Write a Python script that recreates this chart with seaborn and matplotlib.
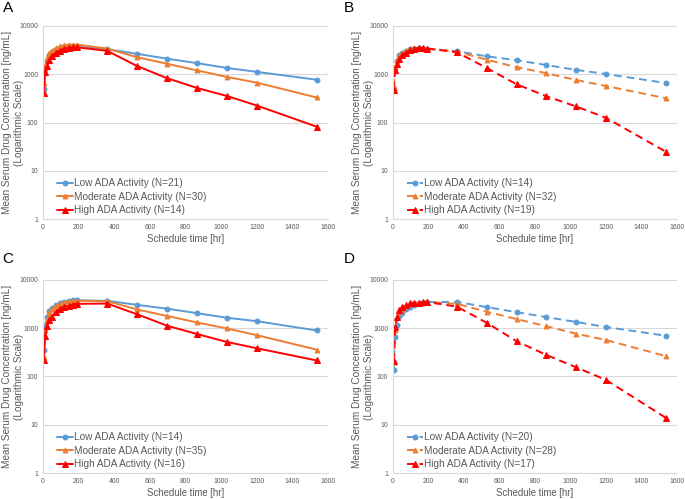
import matplotlib
matplotlib.use("Agg")
import matplotlib.pyplot as plt
import seaborn as sns
import pandas as pd
from matplotlib.ticker import FixedLocator, FixedFormatter, NullLocator

sns.set_theme(style="white")
plt.rcParams['font.family'] = ['Liberation Sans', 'DejaVu Sans']

time_hr = [4, 12, 24, 36, 48, 72, 96, 120, 144, 168, 192, 360, 528, 696, 864, 1032, 1200, 1536]

# Panel A
a_low = [500, 1300, 1900, 2500, 2800, 3200, 3400, 3600, 3700, 3700, 3700, 3300, 2650, 2100, 1700, 1350, 1120, 770]
a_mod = [650, 1500, 2200, 2800, 3100, 3500, 3800, 4000, 4100, 4100, 4100, 3400, 2250, 1650, 1200, 880, 670, 330]
a_high = [400, 1100, 1500, 2000, 2400, 2800, 3100, 3400, 3500, 3600, 3600, 3050, 1480, 830, 520, 355, 225, 82]
# Panel B
b_low = [500, 1300, 1900, 2500, 2700, 3000, 3300, 3400, 3500, 3400, 3400, 3000, 2350, 1950, 1550, 1230, 1010, 660]
b_mod = [550, 1400, 2000, 2400, 2700, 3000, 3400, 3500, 3500, 3500, 3400, 2950, 2000, 1400, 1050, 760, 570, 320]
b_high = [480, 1250, 1600, 2100, 2500, 2800, 3200, 3400, 3500, 3500, 3400, 2850, 1350, 620, 350, 215, 125, 25]
# Panel C
c_low = [350, 1100, 1700, 2300, 2600, 3000, 3300, 3500, 3700, 3800, 3800, 3700, 3050, 2550, 2050, 1650, 1400, 900]
c_mod = [250, 900, 1500, 2100, 2500, 2900, 3200, 3400, 3600, 3700, 3700, 3650, 2450, 1800, 1320, 990, 720, 360]
c_high = [220, 700, 1100, 1500, 1750, 2200, 2550, 2800, 2900, 3100, 3200, 3250, 1950, 1130, 760, 520, 385, 215]
# Panel D
d_low = [135, 650, 1150, 1800, 2100, 2500, 2800, 3100, 3300, 3400, 3500, 3500, 2750, 2150, 1700, 1350, 1060, 700]
d_mod = [200, 900, 1700, 2200, 2500, 2900, 3200, 3300, 3400, 3500, 3500, 3200, 2200, 1550, 1100, 770, 570, 265]
d_high = [210, 1050, 1750, 2400, 2700, 3100, 3300, 3400, 3400, 3500, 3500, 2800, 1300, 540, 280, 155, 85, 14]

n_labels = {
    'A': ["Low ADA Activity (N=21)", "Moderate ADA Activity (N=30)", "High ADA Activity (N=14)"],
    'B': ["Low ADA Activity (N=14)", "Moderate ADA Activity (N=32)", "High ADA Activity (N=19)"],
    'C': ["Low ADA Activity (N=14)", "Moderate ADA Activity (N=35)", "High ADA Activity (N=16)"],
    'D': ["Low ADA Activity (N=20)", "Moderate ADA Activity (N=28)", "High ADA Activity (N=17)"],
}
panel_data = {
    'A': (a_low, a_mod, a_high),
    'B': (b_low, b_mod, b_high),
    'C': (c_low, c_mod, c_high),
    'D': (d_low, d_mod, d_high),
}
panel_dashed = {'A': False, 'B': True, 'C': False, 'D': True}

colors = ['#5B9BD5', '#ED7D31', '#FF0000']
markers = ['o', '^', '^']
msizes = [3.5, 3.5, 5]

y_ticks = [1, 10, 100, 1000, 10000]
y_tick_labels = ["1", "10", "100", "1000", "10000"]
x_ticks = [0, 200, 400, 600, 800, 1000, 1200, 1400, 1600]

fig = plt.figure(figsize=(6.85, 4.99), dpi=100)
positions = {
    'A': [0.0628, 0.561, 0.416, 0.387],
    'B': [0.5737, 0.561, 0.4146, 0.387],
    'C': [0.0628, 0.0521, 0.416, 0.3868],
    'D': [0.5737, 0.0521, 0.4146, 0.3868],
}
letter_pos = {'A': (0.004, 0.998), 'B': (0.502, 0.998), 'C': (0.004, 0.495), 'D': (0.502, 0.495)}

for key in ['A', 'B', 'C', 'D']:
    ax = fig.add_axes(positions[key])
    series = panel_data[key]
    ls = (0, (4, 2.5)) if panel_dashed[key] else '-'
    for vals, lab, col, mk, ms in zip(series, n_labels[key], colors, markers, msizes):
        df = pd.DataFrame({'t': time_hr, 'c': vals})
        sns.lineplot(data=df, x='t', y='c', ax=ax, color=col, marker=mk,
                     markersize=ms, markeredgecolor=col, linewidth=1.4,
                     linestyle=ls, label=lab, errorbar=None)
    ax.set_yscale('log')
    ax.set_ylim(1, 10000)
    ax.set_xlim(0, 1600)
    ax.yaxis.set_major_locator(FixedLocator(y_ticks))
    ax.yaxis.set_major_formatter(FixedFormatter(y_tick_labels))
    ax.yaxis.set_minor_locator(NullLocator())
    ax.set_xticks(x_ticks)
    ax.set_xticklabels([str(v) for v in x_ticks])
    ax.tick_params(axis='both', length=0, labelsize=4.9, colors='#595959', pad=3.5)
    ax.grid(axis='y', color='#D9D9D9', linewidth=0.8)
    ax.grid(axis='x', visible=False)
    for s in ['top', 'right']:
        ax.spines[s].set_visible(False)
    for s in ['left', 'bottom']:
        ax.spines[s].set_color('#D9D9D9')
        ax.spines[s].set_linewidth(0.8)
    ax.set_xlabel("Schedule time [hr]", fontsize=6.9, color='#595959', labelpad=2)
    ax.set_ylabel("Mean Serum Drug Concentration [ng/mL]\n(Logarithmic Scale)",
                  fontsize=7.2, color='#595959', linespacing=1.2)
    ax.yaxis.set_label_coords(-0.068, 0.5)
    leg = ax.legend(loc='lower left', bbox_to_anchor=(0.035, 0.0), frameon=False,
                    fontsize=7.2, handlelength=1.6, handletextpad=0.1,
                    labelspacing=0.35, borderaxespad=0.0)
    for t in leg.get_texts():
        t.set_color('#595959')
    fig.text(letter_pos[key][0], letter_pos[key][1], key, fontsize=11,
             ha='left', va='top', color='black')

fig.savefig("out.png", dpi=100)
